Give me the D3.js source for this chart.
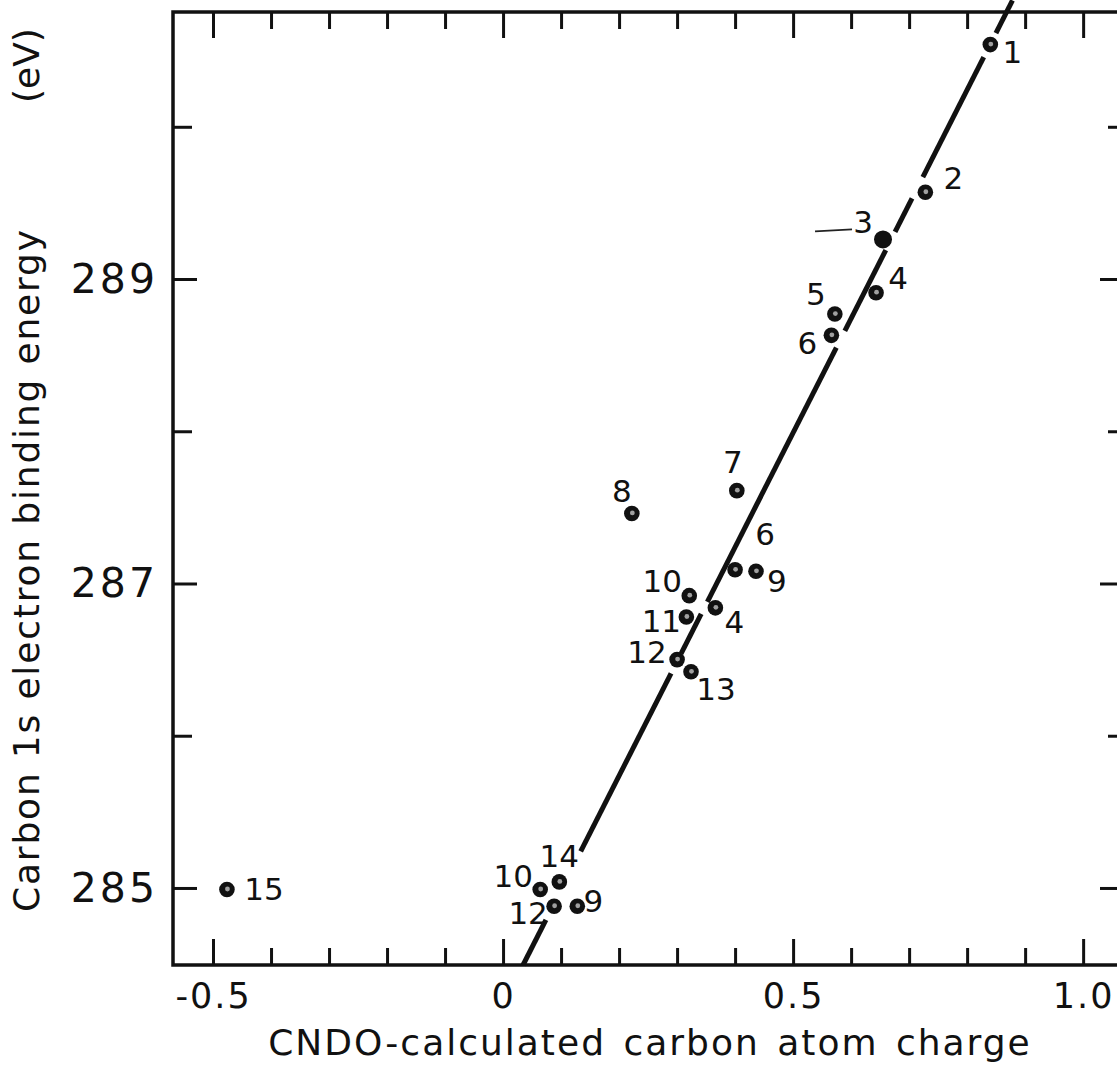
<!DOCTYPE html>
<html><head><meta charset="utf-8">
<script src="https://cdn.jsdelivr.net/npm/d3@7"></script>
<style>
html,body{margin:0;padding:0;background:#fff;}
svg{display:block;}
</style></head><body>
<svg id="chart" width="1117" height="1066"></svg>
<script>
// ---- data ----
const pointIds = ["1","2","3","4","5","6","7","8","6","9","10","11","4","12","13","14","10","12","9","15"];
const charges = [0.840,0.728,0.655,0.643,0.572,0.566,0.403,0.222,0.400,0.436,0.321,0.316,0.366,0.300,0.324,0.097,0.064,0.088,0.128,-0.476];
const bindingEnergies = [290.54,289.57,289.26,288.91,288.77,288.63,287.61,287.46,287.09,287.08,286.92,286.78,286.84,286.50,286.42,285.04,284.99,284.88,284.88,284.99];
const fitSlope = 7.51;
const fitIntercept = 284.235;
const fitSegments = [[284.494,284.79],[285.24,286.41],[286.54,286.80],[286.88,288.55],[288.66,289.19],[289.31,289.53],[289.67,290.458],[290.616,290.83]];
const xMajorTicks = [-0.5,0,0.5,1.0];
const xTickLabels = ["-0.5","0","0.5","1.0"];
const xMinorTicks = [-0.4,-0.3,-0.2,-0.1,0.1,0.2,0.3,0.4,0.6,0.7,0.8,0.9];
const yMajorTicks = [285,287,289];
const yTickLabels = ["285","287","289"];
const yMinorTicks = [286,288,290];
const xTitle = "CNDO-calculated carbon atom charge";
const yTitle = "Carbon 1s electron binding energy";
const yUnit = "(eV)";

// ---- layout (label offsets in px, marker emphasis) ----
const labelOffsets = [[22,7],[28,-14],[-20,-17],[22,-15],[-19,-20],[-24,8],[-4,-29],[-10,-22],[30,-36],[21,10],[-27,-15],[-25,4],[19,14],[-30,-8],[25,17],[0,-26],[-27,-13],[-26,7],[16,-5],[37,0]];
const solidIndex = 2;

const svg = d3.select("#chart");
const W = 1117, H = 1066;
svg.append("rect").attr("width",W).attr("height",H).attr("fill","#fff");

const L = 173, R = 1122, T = 12, B = 965;
const x = d3.scaleLinear().domain([-0.569, 1.067]).range([L, R]);
const y = d3.scaleLinear().domain([284.494, 290.754]).range([B, T]);

const ink = "#111";
const font = "'DejaVu Sans', 'Liberation Sans', sans-serif";

function styleAxis(g){
  g.select(".domain").remove();
  g.selectAll(".tick line").attr("stroke", ink).attr("stroke-width", 3);
  g.selectAll(".tick text").attr("fill", ink).attr("font-family", font);
}

// bottom
svg.append("g").attr("transform",`translate(0,${B})`)
  .call(d3.axisBottom(x).tickValues(xMajorTicks).tickSize(-26).tickSizeOuter(0).tickPadding(18)
    .tickFormat((d,i)=>xTickLabels[i]))
  .call(styleAxis)
  .call(g=>g.selectAll(".tick text").attr("font-size",35).attr("letter-spacing",2));
svg.append("g").attr("transform",`translate(0,${B})`)
  .call(d3.axisBottom(x).tickValues(xMinorTicks).tickSize(-17).tickSizeOuter(0).tickFormat(""))
  .call(styleAxis);
// top
svg.append("g").attr("transform",`translate(0,${T})`)
  .call(d3.axisTop(x).tickValues(xMajorTicks).tickSize(-26).tickSizeOuter(0).tickFormat(""))
  .call(styleAxis);
svg.append("g").attr("transform",`translate(0,${T})`)
  .call(d3.axisTop(x).tickValues(xMinorTicks).tickSize(-17).tickSizeOuter(0).tickFormat(""))
  .call(styleAxis);
// left
svg.append("g").attr("transform",`translate(${L},0)`)
  .call(d3.axisLeft(y).tickValues(yMajorTicks).tickSize(-24).tickSizeOuter(0).tickPadding(15)
    .tickFormat((d,i)=>yTickLabels[i]))
  .call(styleAxis)
  .call(g=>g.selectAll(".tick text").attr("font-size",41).attr("letter-spacing",3));
svg.append("g").attr("transform",`translate(${L},0)`)
  .call(d3.axisLeft(y).tickValues(yMinorTicks).tickSize(-19).tickSizeOuter(0).tickFormat(""))
  .call(styleAxis);
// right
svg.append("g").attr("transform",`translate(${R},0)`)
  .call(d3.axisRight(y).tickValues(yMajorTicks).tickSize(-22).tickSizeOuter(0).tickFormat(""))
  .call(styleAxis);
svg.append("g").attr("transform",`translate(${R},0)`)
  .call(d3.axisRight(y).tickValues(yMinorTicks).tickSize(-14).tickSizeOuter(0).tickFormat(""))
  .call(styleAxis);

// frame
svg.append("rect").attr("x",L).attr("y",T).attr("width",R-L).attr("height",B-T)
  .attr("fill","none").attr("stroke",ink).attr("stroke-width",3.5);

// fit line segments
const qOf = E => (E - fitIntercept) / fitSlope;
svg.append("g").selectAll("line").data(fitSegments).join("line")
  .attr("x1",d=>x(qOf(d[0]))).attr("y1",d=>y(d[0]))
  .attr("x2",d=>x(qOf(d[1]))).attr("y2",d=>y(d[1]))
  .attr("stroke",ink).attr("stroke-width",5).attr("stroke-linecap","butt");

// points
const pts = pointIds.map((id,i)=>({id, q:charges[i], E:bindingEnergies[i], i}));
const pg = svg.append("g");
pg.selectAll("circle.m").data(pts).join("circle").attr("class","m")
  .attr("cx",d=>x(d.q)).attr("cy",d=>y(d.E))
  .attr("r",d=>d.i===solidIndex?9:7.8).attr("fill",ink);
pg.selectAll("circle.c").data(pts.filter(d=>d.i!==solidIndex)).join("circle").attr("class","c")
  .attr("cx",d=>x(d.q)+0.5).attr("cy",d=>y(d.E)-0.5)
  .attr("r",2.4).attr("fill","#a0a0a0");

// leader line for label 3
const p3 = pts[solidIndex];
svg.append("line")
  .attr("x1",x(p3.q)-68).attr("y1",y(p3.E)-8)
  .attr("x2",x(p3.q)-31).attr("y2",y(p3.E)-10)
  .attr("stroke","#222").attr("stroke-width",1.8);

// point labels
pg.selectAll("text").data(pts).join("text")
  .attr("x",d=>x(d.q)+labelOffsets[d.i][0]).attr("y",d=>y(d.E)+labelOffsets[d.i][1])
  .attr("text-anchor","middle").attr("dominant-baseline","central")
  .attr("font-family",font).attr("font-size",31).attr("fill",ink)
  .text(d=>d.id);

// axis titles
svg.append("text").attr("x",650).attr("y",1055).attr("text-anchor","middle")
  .attr("font-family",font).attr("font-size",36).attr("letter-spacing",2).attr("word-spacing",4)
  .attr("fill",ink).text(xTitle);
svg.append("text").attr("transform","translate(39,912) rotate(-90)").attr("text-anchor","start")
  .attr("font-family",font).attr("font-size",36)
  .attr("textLength",682).attr("lengthAdjust","spacing")
  .attr("fill",ink).text(yTitle);
svg.append("text").attr("transform","translate(39,103) rotate(-90)").attr("text-anchor","start")
  .attr("font-family",font).attr("font-size",36)
  .attr("fill",ink).text(yUnit);
</script>
</body></html>
